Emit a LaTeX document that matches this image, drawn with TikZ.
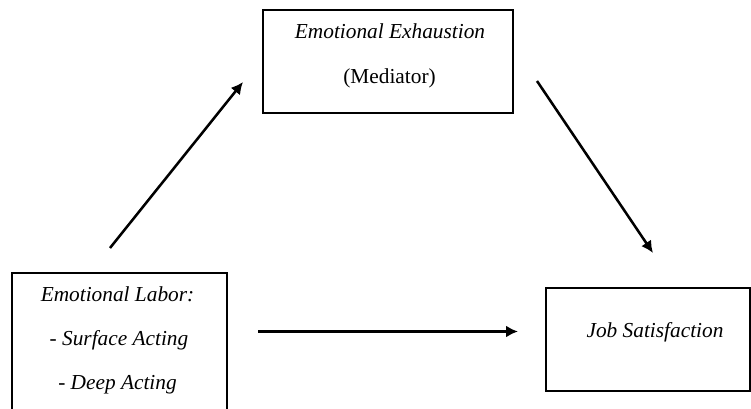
\documentclass[tikz,border=0pt]{standalone}
\usepackage{fontspec}
\setmainfont{Liberation Serif}
\usetikzlibrary{positioning,arrows.meta}

\begin{document}
\begin{tikzpicture}[x=0.75pt,y=-0.75pt,
    box/.style={draw, line width=1pt, rectangle, inner sep=0pt},
    lbl/.style={inner sep=0pt, anchor=base, font=\fontsize{16}{19}\selectfont},
    link/.style={line width=1.9pt, -{Latex[length=9pt,width=9pt]}}]
    % Frame
    \useasboundingbox (0,0) rectangle (751,409);
    \clip (0,0) rectangle (751,409);

    % Boxes
    \node[box, minimum width=187.5pt, minimum height=77.25pt] (mediator) at (388,61.5) {};
    \node[box, minimum width=161.25pt, minimum height=120pt] (labor) at (119.5,353) {};
    \node[box, minimum width=153pt, minimum height=77.25pt] (satisfaction) at (648,339.5) {};

    % Texts
    \node[lbl] (medname) at (390,38.5) {\textit{Emotional Exhaustion}};
    \node[lbl] (medrole) at (389.5,84) {(Mediator)};
    \node[lbl] (laborname) at (117.5,302) {\textit{Emotional Labor:}};
    \node[lbl] (surface) at (119,346) {\textit{- Surface Acting}};
    \node[lbl] (deep) at (117.5,390) {\textit{- Deep Acting}};
    \node[lbl] (satname) at (655,338) {\textit{Job Satisfaction}};

    % Arrows
    \coordinate (a1) at (110,248);
    \coordinate (b1) at (243,82);
    \coordinate (a2) at (537,81);
    \coordinate (b2) at (653,253);
    \coordinate (a3) at (258,331.5);
    \coordinate (b3) at (518,331.5);
    \draw[link] (a1) -- (b1);
    \draw[link] (a2) -- (b2);
    \draw[link] (a3) -- (b3);
\end{tikzpicture}
\end{document}
